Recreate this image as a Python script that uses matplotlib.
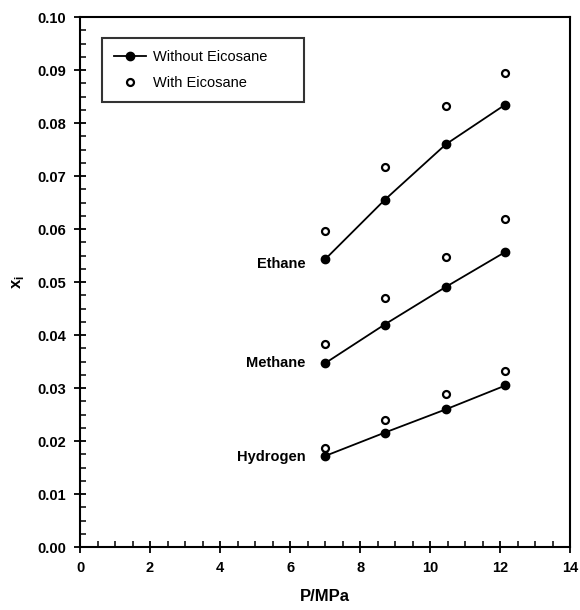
import matplotlib
matplotlib.use("Agg")
import matplotlib.pyplot as plt
from matplotlib.ticker import MultipleLocator, FormatStrFormatter

plt.rcParams["font.family"] = ["Liberation Sans", "DejaVu Sans"]

# presion [MPa]
P = [7.0, 8.7, 10.45, 12.15]

# fraccion molar, sin y con eicosano
ethane_wo = [0.0543, 0.0655, 0.0760, 0.0835]
ethane_w = [0.0596, 0.0718, 0.0833, 0.0895]
methane_wo = [0.0347, 0.0420, 0.0491, 0.0557]
methane_w = [0.0384, 0.0470, 0.0548, 0.0619]
hydrogen_wo = [0.0172, 0.0216, 0.0260, 0.0305]
hydrogen_w = [0.0188, 0.0239, 0.0289, 0.0333]

names = ["Ethane", "Methane", "Hydrogen"]
label_y = [0.0535, 0.0348, 0.0171]

fig = plt.figure(figsize=(5.8, 6.1), dpi=100)
ax = fig.add_axes([0.138, 0.103, 0.845, 0.869])

series = [(ethane_wo, ethane_w), (methane_wo, methane_w), (hydrogen_wo, hydrogen_w)]
for i, (wo, w) in enumerate(series):
    ax.plot(P, wo, "k-", lw=1.3, marker="o", ms=6, mfc="k", mec="k",
            label="Without Eicosane" if i == 0 else None)
    ax.plot(P, w, ls="none", marker="o", ms=5, mfc="white", mec="k", mew=1.6,
            label="With Eicosane" if i == 0 else None)

for name, yl in zip(names, label_y):
    ax.text(6.45, yl, name, ha="right", va="center", fontsize=10.5, fontweight="bold")

ax.set_xlim(0, 14); ax.set_ylim(0, 0.10)
ax.xaxis.set_major_locator(MultipleLocator(2)); ax.xaxis.set_minor_locator(MultipleLocator(0.5))
ax.yaxis.set_major_locator(MultipleLocator(0.01)); ax.yaxis.set_minor_locator(MultipleLocator(0.0025))
ax.yaxis.set_major_formatter(FormatStrFormatter("%.2f"))
ax.tick_params(which="major", direction="inout", length=8, width=1.3, labelsize=10.5, pad=6)
ax.tick_params(which="minor", direction="in", length=4, width=1.1)
for lab in ax.get_xticklabels() + ax.get_yticklabels():
    lab.set_fontweight("bold")
for sp in ax.spines.values():
    sp.set_linewidth(1.5)

ax.set_xlabel("P/MPa", fontsize=12, fontweight="bold", labelpad=10)
ax.set_ylabel(r"x$_\mathregular{i}$", fontsize=12, fontweight="bold", labelpad=8)

leg = ax.legend(loc="upper left", bbox_to_anchor=(0.045, 0.96), borderaxespad=0, frameon=True,
                fancybox=False, edgecolor="k", fontsize=10.5, handlelength=2.2, handletextpad=0.5,
                borderpad=0.8, labelspacing=0.85)
leg.get_frame().set_linewidth(1.5)
# caja algo mas ancha, como en el original
for t in leg.get_texts():
    t.set_text(t.get_text() + "      ")

fig.savefig("out.png", dpi=100)
